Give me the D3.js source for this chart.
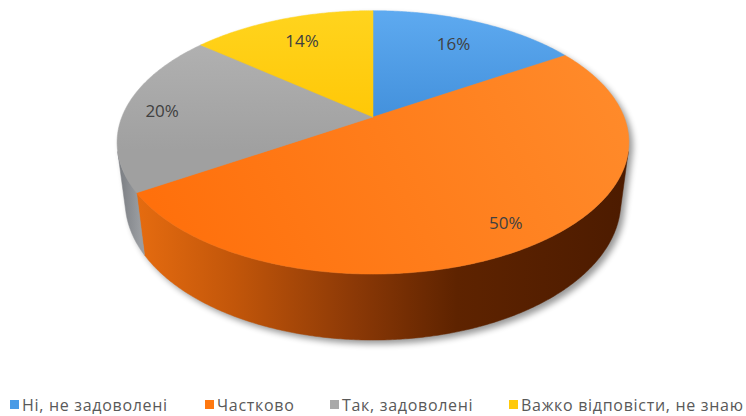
<!DOCTYPE html>
<html>
<head>
<meta charset="utf-8">
<script src="https://cdn.jsdelivr.net/npm/d3@7"></script>
<style>
  html, body { margin: 0; padding: 0; background: #fff; }
  svg { display: block; }
</style>
</head>
<body>
<svg id="chart" width="746" height="416"></svg>
<script>
// Survey answers, share of respondents (%)
const categories = ["Ні, не задоволені", "Частково", "Так, задоволені", "Важко відповісти, не знаю"];
const values = [16, 50, 20, 14];
const labels = ["16%", "50%", "20%", "14%"];

const colors = ["#4a9be6", "#ff780f", "#a9a9a9", "#ffc90a"];
const topStops = [["#5eaaf0", "#3b89d6"], ["#ff8a2a", "#ff700c"], ["#b6b6b6", "#a0a0a0"], ["#ffd41e", "#ffc400"]];
const labelRadius = [0.75, 0.85, 0.85, 0.75];

const width = 746, height = 416;
const svg = d3.select("#chart");

// Perspective camera for the tilted disc (radius 1, thickness depth)
const cx = 373, cy = 117;
const focal = 1125, dist = 4.48;
const tilt = 30.33 * Math.PI / 180;
const sT = Math.sin(tilt), cT = Math.cos(tilt);
const depth = 0.278;

function project(theta, y, r = 1) {
  const x = r * Math.sin(theta), z = r * Math.cos(theta);
  const yv = y * cT + z * sT;
  const zv = z * cT - y * sT;
  const k = focal / (dist + zv);
  return [cx + x * k, cy - yv * k];
}

function arcPoints(a0, a1, y) {
  const n = Math.max(2, Math.ceil(Math.abs(a1 - a0) / (Math.PI / 360)));
  return d3.range(n + 1).map(i => project(a0 + (a1 - a0) * i / n, y));
}

const line = d3.line();
const pie = d3.pie().sort(null).value(d => d)(values);

const defs = svg.append("defs");

// soft drop shadow under the disc
const blur = defs.append("filter").attr("id", "shadowBlur")
  .attr("x", "-10%").attr("y", "-10%").attr("width", "120%").attr("height", "130%");
blur.append("feGaussianBlur").attr("stdDeviation", 3);

// top face gradients
pie.forEach((p, i) => {
  const g = defs.append("linearGradient").attr("id", "top" + i)
    .attr("gradientUnits", "userSpaceOnUse");
  if (i === 1) g.attr("x1", 600).attr("y1", 60).attr("x2", 180).attr("y2", 260);
  else g.attr("x1", 0).attr("y1", 10).attr("x2", 0).attr("y2", 150);
  g.append("stop").attr("offset", 0).attr("stop-color", topStops[i][0]);
  g.append("stop").attr("offset", 1).attr("stop-color", topStops[i][1]);
});

// side wall gradients
const wallOrange = defs.append("linearGradient").attr("id", "wall1")
  .attr("gradientUnits", "userSpaceOnUse").attr("x1", 135).attr("y1", 0).attr("x2", 630).attr("y2", 0);
[[0, "#e66c10"], [0.2, "#c2560a"], [0.45, "#8a3806"], [0.65, "#5e2300"], [1, "#4c1b00"]]
  .forEach(([o, c]) => wallOrange.append("stop").attr("offset", o).attr("stop-color", c));
const wallGray = defs.append("linearGradient").attr("id", "wall2")
  .attr("gradientUnits", "userSpaceOnUse").attr("x1", 115).attr("y1", 0).attr("x2", 140).attr("y2", 0);
[[0, "#74777c"], [1, "#9a9da1"]]
  .forEach(([o, c]) => wallGray.append("stop").attr("offset", o).attr("stop-color", c));

// visible part of the outer wall
const vis = Math.acos(-1 / (dist * cT));
const visStart = vis, visEnd = 2 * Math.PI - vis;

// shadow silhouette
const outline = arcPoints(visStart, visEnd, -depth)
  .concat(arcPoints(visEnd, visStart + 2 * Math.PI, 0));
svg.append("path")
  .attr("d", line(outline) + "Z")
  .attr("transform", "translate(4,4)")
  .attr("fill", "#000")
  .attr("opacity", 0.4)
  .attr("filter", "url(#shadowBlur)");

// walls
const walls = svg.append("g");
pie.forEach((p, i) => {
  const a0 = Math.max(p.startAngle, visStart), a1 = Math.min(p.endAngle, visEnd);
  if (a1 <= a0) return;
  const pts = arcPoints(a0, a1, 0).concat(arcPoints(a1, a0, -depth));
  walls.append("path")
    .attr("d", line(pts) + "Z")
    .attr("fill", (i === 1 || i === 2) ? `url(#wall${i})` : colors[i])
    .attr("stroke", (i === 1 || i === 2) ? `url(#wall${i})` : colors[i])
    .attr("stroke-width", 0.5);
});

// top faces
const tops = svg.append("g");
pie.forEach((p, i) => {
  const pts = [[cx, cy]].concat(arcPoints(p.startAngle, p.endAngle, 0));
  tops.append("path")
    .attr("d", line(pts) + "Z")
    .attr("fill", `url(#top${i})`)
    .attr("stroke", `url(#top${i})`)
    .attr("stroke-width", 0.5);
});

// value labels
svg.append("g").selectAll("text")
  .data(pie)
  .join("text")
  .attr("x", (p, i) => project((p.startAngle + p.endAngle) / 2, 0, labelRadius[i])[0])
  .attr("y", (p, i) => project((p.startAngle + p.endAngle) / 2, 0, labelRadius[i])[1])
  .attr("text-anchor", "middle")
  .attr("dominant-baseline", "central")
  .attr("font-family", "'Open Sans', sans-serif")
  .attr("font-size", 17)
  .attr("fill", "#404040")
  .text((p, i) => labels[i]);

// legend
const legendX = [10, 205, 330, 509];
const legend = svg.append("g").selectAll("g")
  .data(categories)
  .join("g")
  .attr("transform", (d, i) => `translate(${legendX[i]},405)`);
legend.append("rect")
  .attr("x", 0).attr("y", -5)
  .attr("width", 9).attr("height", 9)
  .attr("fill", (d, i) => colors[i]);
legend.append("text")
  .attr("x", 12).attr("y", 0)
  .attr("dominant-baseline", "central")
  .attr("font-family", "'Open Sans', sans-serif")
  .attr("font-size", 16)
  .attr("letter-spacing", 0.7)
  .attr("fill", "#595959")
  .text(d => d);
</script>
</body>
</html>
